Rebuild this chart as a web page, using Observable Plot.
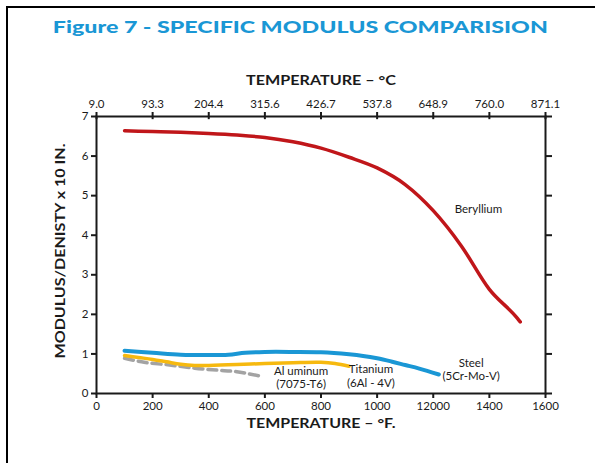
<!DOCTYPE html>
<html>
<head>
<meta charset="utf-8">
<script src="https://cdn.jsdelivr.net/npm/d3@7"></script>
<script src="https://cdn.jsdelivr.net/npm/@observablehq/plot@0.6"></script>
<style>
  html, body { margin: 0; padding: 0; background: #fff; width: 595px; height: 463px; overflow: hidden; }
  #page { position: relative; width: 595px; height: 463px; }
  #border { position: absolute; left: 6px; top: 6px; right: -20px; bottom: -20px; border-left: 2.5px solid #000; border-top: 2.5px solid #000; }
  #title { position: absolute; left: 0; top: 17px; width: 600px; text-align: center; font-family: Lato, "Open Sans", sans-serif; font-weight: 900; font-size: 17px; line-height: 20px; color: #1a97d5; white-space: nowrap; }
  #titletext { display: inline-block; transform-origin: 50% 50%; }
  #chart { position: absolute; left: 0; top: 0; }
</style>
</head>
<body>
<div id="page">
  <div id="border"></div>
  <div id="title"><span id="titletext">Figure 7 - SPECIFIC MODULUS COMPARISION</span></div>
  <div id="chart"></div>
</div>
<script>
// Axis ticks (°F) and labels
const fTicks = [0, 200, 400, 600, 800, 1000, 1200, 1400, 1600];
const bottomLabels = ["0", "200", "400", "600", "800", "1000", "12000", "1400", "1600"];
const topLabels = ["9.0", "93.3", "204.4", "315.6", "426.7", "537.8", "648.9", "760.0", "871.1"];
const yTicks = [0, 1, 2, 3, 4, 5, 6, 7];

// Series: temperature (°F) and modulus/density
const berylliumT = [100, 200, 300, 400, 500, 600, 700, 800, 900, 1000, 1100, 1200, 1300, 1400, 1500, 1510];
const berylliumV = [6.64, 6.62, 6.6, 6.57, 6.53, 6.47, 6.36, 6.2, 5.97, 5.7, 5.28, 4.62, 3.73, 2.63, 1.9, 1.81];

const steelT = [100, 200, 300, 400, 470, 530, 600, 700, 800, 900, 950, 1000, 1050, 1100, 1150, 1220];
const steelV = [1.08, 1.03, 0.98, 0.97, 0.98, 1.03, 1.05, 1.05, 1.04, 0.99, 0.95, 0.89, 0.81, 0.72, 0.63, 0.48];

const titaniumT = [100, 150, 200, 250, 300, 350, 400, 500, 600, 700, 800, 850, 900];
const titaniumV = [0.96, 0.91, 0.86, 0.8, 0.74, 0.71, 0.71, 0.73, 0.76, 0.78, 0.79, 0.76, 0.69];

const aluminumT = [100, 170, 260, 350, 430, 500, 590];
const aluminumV = [0.89, 0.79, 0.72, 0.64, 0.59, 0.55, 0.43];

// Series annotations (anchored in data units)
const labelText = ["Beryllium", "Steel\n(5Cr-Mo-V)", "Titanium\n(6Al - 4V)", "Al uminum\n(7075-T6)"];
const labelT = [1361, 1335, 978, 729];
const labelV = [4.66, 0.62, 0.45, 0.42];

const toRows = (T, V) => T.map((t, i) => ({t, v: V[i]}));
const beryllium = toRows(berylliumT, berylliumV);
const steel = toRows(steelT, steelV);
const titanium = toRows(titaniumT, titaniumV);
const aluminum = toRows(aluminumT, aluminumV);
const labels = labelText.map((s, i) => ({s, t: labelT[i], v: labelV[i]}));

const font = "Lato, 'Open Sans', sans-serif";
const ink = "#1a1a1a";
const yTitle = "MODULUS/DENISTY x 10 IN.";
const xTitleTop = "TEMPERATURE – °C";
const xTitleBottom = "TEMPERATURE – °F.";

const chart = Plot.plot({
  width: 595,
  height: 463,
  marginLeft: 96,
  marginRight: 50,
  marginTop: 116,
  marginBottom: 70,
  style: {fontFamily: font, fontSize: "11.5px", color: ink, background: "transparent", overflow: "visible"},
  x: {domain: [0, 1600]},
  y: {domain: [0, 7]},
  marks: [
    Plot.frame({stroke: ink, strokeWidth: 2}),
    Plot.axisX({anchor: "bottom", ticks: fTicks, tickFormat: d => bottomLabels[fTicks.indexOf(d)], tickSize: 5, tickPadding: 3, strokeWidth: 2, label: null}),
    Plot.axisX({anchor: "top", ticks: fTicks, tickFormat: d => topLabels[fTicks.indexOf(d)], tickSize: 5, tickPadding: 4, strokeWidth: 2, label: null}),
    Plot.ruleX(fTicks, {x: d => d, y1: 7, y2: 6.92, stroke: ink, strokeWidth: 2}),
    Plot.axisY({anchor: "left", ticks: yTicks, tickFormat: d => String(d), tickSize: 5, tickPadding: 3, strokeWidth: 2, label: null}),
    Plot.axisY({anchor: "right", ticks: yTicks, tickFormat: () => "", tickSize: 6, strokeWidth: 2, label: null}),
    Plot.text([xTitleTop], {frameAnchor: "top", dy: -41, fontWeight: "bold", fontSize: 13, fill: ink}),
    Plot.text([xTitleBottom], {frameAnchor: "bottom", dy: 34, fontWeight: "bold", fontSize: 13.5, fill: ink}),
    Plot.text([yTitle], {frameAnchor: "left", dx: -36, dy: -4, rotate: -90, textAnchor: "middle", fontWeight: "bold", fontSize: 13, fill: ink}),
    Plot.line(aluminum, {x: "t", y: "v", stroke: "#a3a3a3", strokeWidth: 3.5, strokeDasharray: "9,5", curve: "catmull-rom"}),
    Plot.line(titanium, {x: "t", y: "v", stroke: "#f6b90f", strokeWidth: 3.5, curve: "catmull-rom"}),
    Plot.line(steel, {x: "t", y: "v", stroke: "#1a97d5", strokeWidth: 4, curve: "catmull-rom"}),
    Plot.line(beryllium, {x: "t", y: "v", stroke: "#c0161a", strokeWidth: 3.5, curve: "monotone-x"}),
    Plot.text(labels, {x: "t", y: "v", text: "s", fontSize: 11.5, lineHeight: 1.15, fill: ink})
  ]
});
document.getElementById("chart").appendChild(chart);

// Widen the axis titles to the reference spans (wide bold face)
const spans = new Map([[yTitle, 215], [xTitleTop, 150], [xTitleBottom, 149]]);
d3.select(chart).selectAll("text").each(function() {
  const s = this.textContent;
  if (spans.has(s)) {
    this.setAttribute("textLength", spans.get(s));
    this.setAttribute("lengthAdjust", "spacingAndGlyphs");
  }
});

// Stretch title horizontally to the reference span (wide bold face)
const tt = document.getElementById("titletext");
const w = tt.getBoundingClientRect().width;
const target = 495;
tt.style.transform = "scaleX(" + (target / w) + ")";
</script>
</body>
</html>
